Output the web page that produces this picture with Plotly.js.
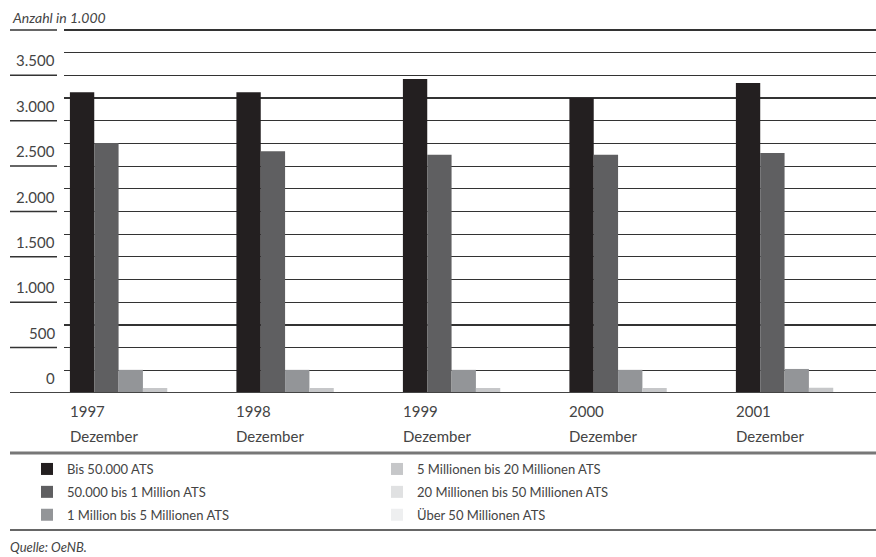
<!DOCTYPE html>
<html><head><meta charset="utf-8">
<script src="https://cdn.plot.ly/plotly-3.0.1.min.js"></script>
<style>html,body{margin:0;padding:0;background:#fff;}#chart{width:876px;height:557px;}</style>
</head><body><div id="chart"></div>
<script>
// ---- data (Anzahl in 1.000) ----
const years = ['1997', '1998', '1999', '2000', '2001'];
const monthLabel = 'Dezember';
const seriesNames = ['Bis 50.000 ATS', '50.000 bis 1 Million ATS', '1 Million bis 5 Millionen ATS',
  '5 Millionen bis 20 Millionen ATS', '20 Millionen bis 50 Millionen ATS', 'Über 50 Millionen ATS'];
const bis50k      = [3315, 3315, 3460, 3250, 3415];
const bis1Mio     = [2755, 2665, 2625, 2625, 2645];
const bis5Mio     = [255, 255, 255, 255, 265];
const bis20Mio    = [55, 55, 55, 55, 58];
const bis50Mio    = [8, 8, 8, 8, 9];
const ueber50Mio  = [4, 4, 4, 4, 5];
const yLabelVals  = [0, 500, 1000, 1500, 2000, 2500, 3000, 3500];

const seriesValues = [bis50k, bis1Mio, bis5Mio, bis20Mio, bis50Mio, ueber50Mio];
const colors = ['#231f20', '#5f5f61', '#939598', '#c6c7c9', '#e0e1e2', '#eeeff0'];

const FONT = 'Lato, "Open Sans", sans-serif';
const L = 64, R = 0, T = 28, B = 164, W = 876, H = 557;
const pw = W - L - R, ph = H - T - B;
const px2x = p => (p - L) / pw;
const px2y = p => (T + ph - p) / ph;

const xIdx = years.map((_, i) => i);
const traces = seriesValues.map((vals, k) => ({
  type: 'bar', x: xIdx, y: vals, name: seriesNames[k],
  marker: { color: colors[k], line: { width: 0 } },
  legend: k < 3 ? 'legend' : 'legend2',
  legendgroup: 'g' + k,
  hoverinfo: 'skip'
}));

const fmt = v => String(v).replace(/\B(?=(\d{3})+(?!\d))/g, '.');
const annotations = [];
yLabelVals.forEach(v => annotations.push({
  xref: 'paper', yref: 'y', x: px2x(57), y: v, xanchor: 'right', yanchor: 'bottom',
  yshift: 4, text: fmt(v), showarrow: false, font: { family: FONT, size: 15, color: '#444' }
}));
const groupHalf = 0.4385;
years.forEach((yr, i) => {
  annotations.push({ xref: 'x', yref: 'paper', x: i - groupHalf, y: px2y(411), xanchor: 'left', yanchor: 'middle',
    text: yr, showarrow: false, font: { family: FONT, size: 15, color: '#444' }, xshift: -2 });
  annotations.push({ xref: 'x', yref: 'paper', x: i - groupHalf, y: px2y(436), xanchor: 'left', yanchor: 'middle',
    text: monthLabel, showarrow: false, font: { family: FONT, size: 15, color: '#444' }, xshift: -2 });
});
annotations.push({ xref: 'paper', yref: 'paper', x: px2x(10), y: px2y(17), xanchor: 'left', yanchor: 'middle',
  text: '<i>Anzahl in 1.000</i>', showarrow: false, font: { family: FONT, size: 14, color: '#444' } });
annotations.push({ xref: 'paper', yref: 'paper', x: px2x(8), y: px2y(547), xanchor: 'left', yanchor: 'middle',
  text: '<i>Quelle: OeNB.</i>', showarrow: false, font: { family: FONT, size: 13, color: '#444' } });

const shapes = [];
yLabelVals.concat([4000]).forEach(v => {
  if (v === 0) return;
  shapes.push({ type: 'line', xref: 'paper', yref: 'y', x0: px2x(10), x1: px2x(57), y0: v, y1: v,
    line: { color: '#333', width: 1.5 } });
});
shapes.push({ type: 'line', xref: 'paper', yref: 'y', x0: px2x(10), x1: 1, y0: 0, y1: 0, line: { color: '#444', width: 2 } });
shapes.push({ type: 'line', xref: 'paper', yref: 'paper', x0: px2x(10), x1: 1, y0: px2y(453), y1: px2y(453), line: { color: '#777', width: 3 } });
shapes.push({ type: 'line', xref: 'paper', yref: 'paper', x0: px2x(10), x1: 1, y0: px2y(530), y1: px2y(530), line: { color: '#333', width: 1.5 } });

const legFont = { family: FONT, size: 13, color: '#444' };
const layout = {
  width: W, height: H, margin: { l: L, r: R, t: T, b: B },
  paper_bgcolor: '#fff', plot_bgcolor: '#fff',
  barmode: 'group', bargap: 0.123, bargroupgap: 0,
  showlegend: true,
  xaxis: { range: [-0.474, 4.403], showgrid: false, zeroline: false, showticklabels: false, showline: false, fixedrange: true },
  yaxis: { range: [0, 4022], tick0: 0, dtick: 250, showgrid: true, gridcolor: '#333', gridwidth: 1.2,
    zeroline: false, showticklabels: false, showline: false },
  legend: { x: px2x(27), y: px2y(454), xanchor: 'left', yanchor: 'top', orientation: 'v',
    font: legFont, tracegroupgap: 3, bgcolor: 'rgba(0,0,0,0)' },
  legend2: { x: px2x(377), y: px2y(454), xanchor: 'left', yanchor: 'top', orientation: 'v',
    font: legFont, tracegroupgap: 3, bgcolor: 'rgba(0,0,0,0)' },
  annotations: annotations, shapes: shapes
};
Plotly.newPlot('chart', traces, layout, { staticPlot: true, displayModeBar: false });
</script></body></html>
